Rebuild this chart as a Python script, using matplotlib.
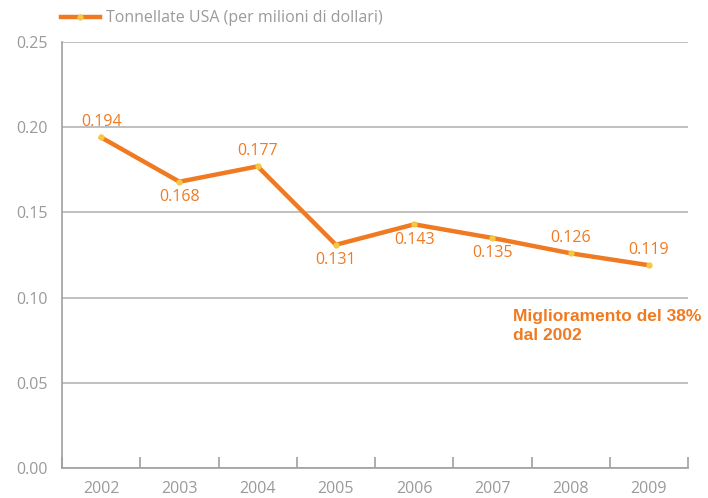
import matplotlib.pyplot as plt

years = ["2002", "2003", "2004", "2005", "2006", "2007", "2008", "2009"]
tonnellate = [0.194, 0.168, 0.177, 0.131, 0.143, 0.135, 0.126, 0.119]
label_above = [True, False, True, False, False, False, True, True]

orange = "#F07A22"
grey = "#9A9A9A"

fig = plt.figure(figsize=(7.08, 4.98), dpi=100)
ax = fig.add_axes([0.0876, 0.0602, 0.8842, 0.8555])

x = list(range(len(years)))
ax.plot(x, tonnellate, color=orange, lw=3.2, solid_joinstyle="miter",
        marker="o", ms=3.5, mfc="#F5C842", mec="#F5C842", zorder=3)

for xi, v, above in zip(x, tonnellate, label_above):
    dy = 0.009 if above else -0.009
    ax.text(xi, v + dy, f"{v:.3f}", color=orange, fontsize=11.5,
            family="Open Sans", ha="center", va="center")

ax.set_xlim(-0.5, len(years) - 0.5)
ax.set_ylim(0, 0.25)
ax.set_yticks([0, 0.05, 0.10, 0.15, 0.20, 0.25])
ax.set_yticklabels(["0.00", "0.05", "0.10", "0.15", "0.20", "0.25"])
ax.grid(axis="y", color="#B5B5B5", lw=1.2)
ax.set_axisbelow(True)

ax.set_xticks(x)
ax.set_xticklabels(years)
ax.set_xticks([i - 0.5 for i in range(len(years) + 1)], minor=True)
ax.tick_params(axis="x", which="major", length=0, pad=9, labelsize=11.5, labelcolor=grey)
ax.tick_params(axis="x", which="minor", direction="in", length=8, color="#A0A0A0", width=1.2)
ax.tick_params(axis="y", length=0, pad=10, labelsize=11.5, labelcolor=grey)
for lab in ax.get_xticklabels() + ax.get_yticklabels():
    lab.set_family("Open Sans")

for s in ["top", "right"]:
    ax.spines[s].set_visible(False)
ax.spines["left"].set_color("#A0A0A0")
ax.spines["bottom"].set_color("#A0A0A0")
ax.spines["left"].set_linewidth(1.2)
ax.spines["bottom"].set_linewidth(1.2)

ax.text(5.26, 0.0935, "Miglioramento del 38%\ndal 2002", color=orange,
        fontsize=12.5, fontweight="bold", family="Liberation Sans",
        ha="left", va="top", linespacing=1.35)

# legenda in alto
fig.lines.append(plt.Line2D([61 / 708, 100 / 708], [1 - 17 / 498] * 2,
                            color=orange, lw=3.2, transform=fig.transFigure))
fig.lines.append(plt.Line2D([80 / 708], [1 - 17 / 498], color="#F5C842",
                            marker="o", ms=3.5, lw=0, transform=fig.transFigure))
fig.text(106 / 708, 1 - 18 / 498, "Tonnellate USA (per milioni di dollari)",
         color=grey, fontsize=11.5, family="Open Sans", ha="left", va="center")

fig.savefig("out.png", dpi=100)
